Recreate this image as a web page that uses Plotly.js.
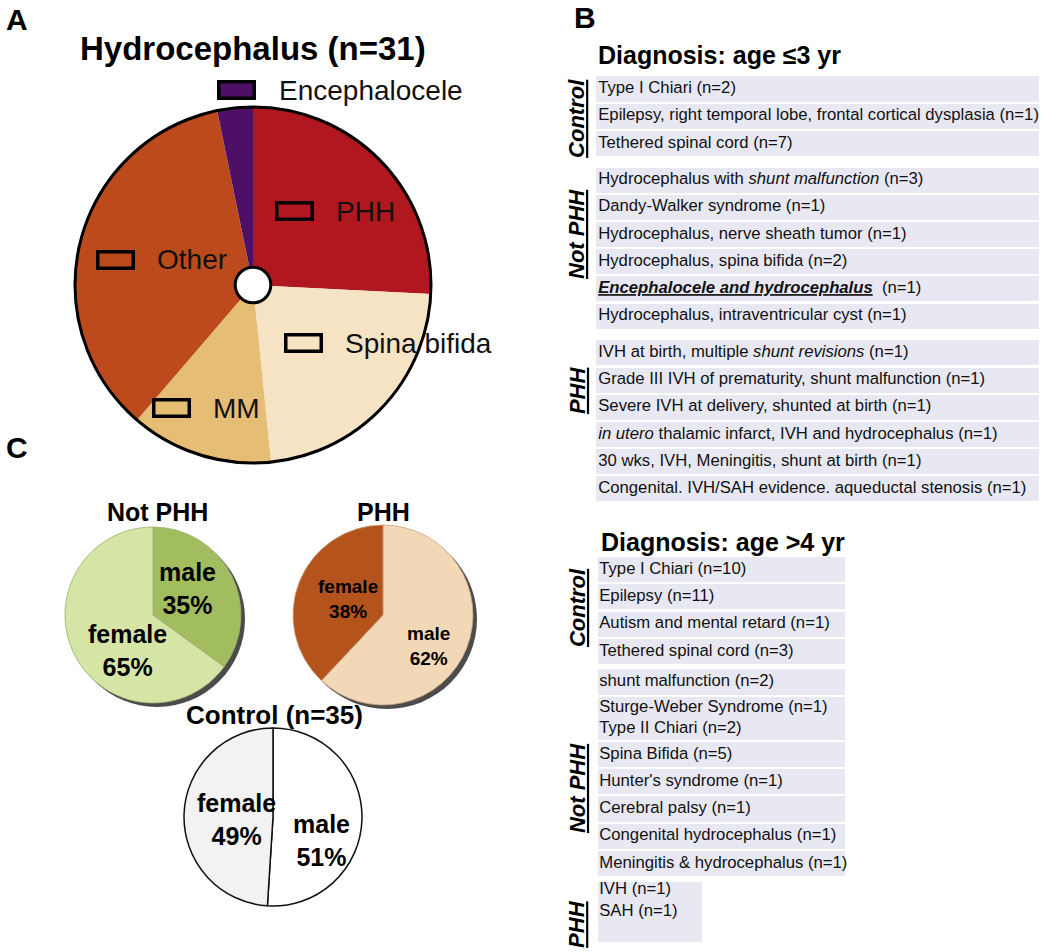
<!DOCTYPE html>
<html><head><meta charset="utf-8">
<script src="https://cdn.plot.ly/plotly-3.0.1.min.js"></script>
<style>html,body{margin:0;padding:0;background:#fff}#chart{width:1050px;height:952px}</style>
</head><body><div id="chart"></div>
<script>
// ---------------- data ----------------
const hydroLabels = ['PHH', 'Spina bifida', 'MM', 'Other', 'Encephalocele'];
const hydroCounts = [8, 7, 4, 11, 1];

const sexLabels = ['male', 'female'];
const notPhhPct = [35, 65];
const phhPct = [62, 38];
const controlPct = [51, 49];

const groupNames = ['Control', 'Not PHH', 'PHH'];

const youngControl = [
  'Type I Chiari (n=2)',
  'Epilepsy, right temporal lobe, frontal cortical dysplasia (n=1)',
  'Tethered spinal cord (n=7)'
];
const youngNotPHH = [
  'Hydrocephalus with <i>shunt malfunction</i> (n=3)',
  'Dandy-Walker syndrome (n=1)',
  'Hydrocephalus, nerve sheath tumor (n=1)',
  'Hydrocephalus, spina bifida (n=2)',
  '<b><i><u>Encephalocele and hydrocephalus</u></i></b>  (n=1)',
  'Hydrocephalus, intraventricular cyst (n=1)'
];
const youngPHH = [
  'IVH at birth, multiple <i>shunt revisions</i> (n=1)',
  'Grade III IVH of prematurity, shunt malfunction (n=1)',
  'Severe IVH at delivery, shunted at birth (n=1)',
  '<i>in utero</i> thalamic infarct, IVH and hydrocephalus (n=1)',
  '30 wks, IVH, Meningitis, shunt at birth (n=1)',
  'Congenital. IVH/SAH evidence. aqueductal stenosis (n=1)'
];
const oldControl = [
  'Type I Chiari (n=10)',
  'Epilepsy (n=11)',
  'Autism and mental retard (n=1)',
  'Tethered spinal cord (n=3)'
];
const oldNotPHH = [
  'shunt malfunction (n=2)',
  'Sturge-Weber Syndrome (n=1)<br>Type II Chiari (n=2)',
  'Spina Bifida (n=5)',
  "Hunter's syndrome (n=1)",
  'Cerebral palsy (n=1)',
  'Congenital hydrocephalus (n=1)',
  'Meningitis & hydrocephalus (n=1)'
];
const oldPHH = ['IVH (n=1)<br>SAH (n=1)<br> '];

// ---------------- styles / layout helpers ----------------
const W = 1050, H = 952;
const fx = p => p / W, fy = p => 1 - p / H;
const FONT = '"Liberation Sans", Arial, sans-serif';
const hydroColors = ['#B0171F', '#F5E3C4', '#E5BD74', '#BD4A1D', '#4E1066'];
const CELL = '#E8E8F3';

const traces = [];
const annotations = [];
function txt(text, x, y, size, opts) {
  annotations.push(Object.assign({
    xref: 'paper', yref: 'paper', x: fx(x), y: fy(y), text: text, showarrow: false,
    xanchor: 'center', yanchor: 'middle', font: {family: FONT, size: size, color: '#000'}
  }, opts || {}));
}

// main pie
const mainDom = {x: [fx(75), fx(431)], y: [fy(463), fy(107)]};
traces.push({
  type: 'pie', labels: hydroLabels, values: hydroCounts, sort: false,
  direction: 'clockwise', rotation: 0, hole: 0.1, domain: mainDom,
  marker: {colors: hydroColors, line: {width: 0}}, textinfo: 'none', hoverinfo: 'label+value'
});
traces.push({
  type: 'pie', labels: ['all'], values: [1], sort: false, hole: 0.1, domain: mainDom,
  marker: {colors: ['rgba(0,0,0,0)'], line: {color: '#000', width: 3}}, textinfo: 'none', hoverinfo: 'skip'
});

// small pies
function sexPie(vals, colors, cx, cy, r, fontSize, lineColor, lineW, shadow, labelPos) {
  const dom = {x: [fx(cx - r), fx(cx + r)], y: [fy(cy + r), fy(cy - r)]};
  if (shadow) {
    traces.push({
      type: 'pie', labels: ['s'], values: [1], sort: false,
      domain: {x: [fx(cx - r + 4), fx(cx + r + 4)], y: [fy(cy + r + 4), fy(cy - r + 4)]},
      marker: {colors: ['rgba(30,30,30,0.8)'], line: {width: 0}}, textinfo: 'none', hoverinfo: 'skip'
    });
  }
  traces.push({
    type: 'pie', labels: sexLabels, values: vals, sort: false, direction: 'clockwise', rotation: 0,
    domain: dom, marker: {colors: colors, line: {color: lineColor, width: lineW}},
    textinfo: 'none', hoverinfo: 'label+value'
  });
  sexLabels.forEach((lab, i) => {
    txt('<b>' + lab + '<br>' + vals[i] + '%</b>', labelPos[i][0], labelPos[i][1], fontSize);
  });
}
sexPie(notPhhPct, ['#A2BD60', '#D4E5A6'], 153, 615, 88, 25, '#9AAE6A', 0.8, true, [[187, 588], [127, 650]]);
sexPie(phhPct, ['#F2D8B6', '#B4531C'], 383, 615, 90, 19, '#C9A27E', 0.8, true, [[428, 646], [348, 599]]);
sexPie(controlPct, ['#FFFFFF', '#F2F2F2'], 273, 817, 89, 25, '#111', 1.5, false, [[321, 840], [237, 819]]);

// tables: cell fills as horizontal bars, labels as text
const GAPROW = 0.08, LINE_EXTRA = 0.65, TEXT_INSET = 0.005;
function table(groups, gap, widths, xa, ya) {
  let y = 0; const ys = [], th = [], tx = [], xs = [], centers = [];
  groups.forEach((g, gi) => {
    if (gi) y += gap;
    const start = y;
    g.forEach(t => {
      const lines = t.split('<br>').length;
      const slot = 1 + LINE_EXTRA * (lines - 1);
      ys.push(y + slot / 2); th.push(slot - GAPROW); tx.push(t); xs.push(widths[gi]);
      y += slot;
    });
    centers.push((start + y) / 2);
  });
  traces.push({
    type: 'bar', orientation: 'h', x: xs, y: ys, width: th, base: 0,
    marker: {color: CELL, line: {width: 0}}, xaxis: xa, yaxis: ya, hoverinfo: 'skip'
  });
  traces.push({
    type: 'scatter', mode: 'text', x: ys.map(() => TEXT_INSET), y: ys, text: tx, textposition: 'middle right',
    marker: {size: 1}, textfont: {family: FONT, size: 16.7, color: '#111'},
    xaxis: xa, yaxis: ya, hoverinfo: 'skip', cliponaxis: false
  });
  return {total: y, centers};
}
const upTop = 75.4, upPitch = 27.2, loTop = 555.9, loPitch = 27.3;
const up = table([youngControl, youngNotPHH, youngPHH], 0.35, [1, 1, 1], 'x', 'y');
const lo = table([oldControl, oldNotPHH, oldPHH], 0.12, [1, 1, 0.42], 'x2', 'y2');

// panel letters and titles
txt('<b>A</b>', 17, 19, 30);
txt('<b>B</b>', 585, 17, 30);
txt('<b>C</b>', 17, 447, 30);
txt('<b>Hydrocephalus (n=31)</b>', 253, 48, 33);
txt('<b>Not PHH</b>', 157, 512, 25);
txt('<b>PHH</b>', 383, 512, 25);
txt('<b>Control (n=35)</b>', 274, 715, 26);
txt('<b>Diagnosis: age ≤3 yr</b>', 596, 55, 25, {xanchor: 'left'});
txt('<b>Diagnosis: age >4 yr</b>', 599, 542, 25, {xanchor: 'left'});

// swatch labels for main pie
const swatchPos = {
  'Encephalocele': [237, 90], 'PHH': [294, 211], 'Other': [115, 260],
  'Spina bifida': [303, 343], 'MM': [171, 408]
};
hydroLabels.forEach((lab, i) => {
  const p = swatchPos[lab];
  annotations.push({
    xref: 'paper', yref: 'paper', x: fx(p[0]), y: fy(p[1]), text: '\u00a0', showarrow: false,
    xanchor: 'center', yanchor: 'middle',
    width: 32, height: 13, bgcolor: hydroColors[i], bordercolor: '#000', borderwidth: 3.5, borderpad: 0,
    font: {size: 2}
  });
  txt(lab, p[0] + 40, p[1], 28, {xanchor: 'left', font: {family: FONT, size: 28, color: '#111'}});
});

// group labels (rotated, underlined)
const upNudge = [0.1, -0.52, -1.13], loNudge = [-0.09, 0.56, 0.44];
groupNames.forEach((g, i) => {
  annotations.push({xref: 'paper', yref: 'y', x: fx(577), y: up.centers[i] + upNudge[i], text: '<b><i><u>' + g + '</u></i></b>',
    textangle: -90, showarrow: false, xanchor: 'center', yanchor: 'middle', font: {family: FONT, size: 22, color: '#000'}});
  annotations.push({xref: 'paper', yref: 'y2', x: fx(577), y: lo.centers[i] + loNudge[i], text: '<b><i><u>' + g + '</u></i></b>',
    textangle: -90, showarrow: false, xanchor: 'center', yanchor: 'middle', font: {family: FONT, size: 22, color: '#000'}});
});

const hidden = {visible: false, fixedrange: true};
const layout = {
  width: W, height: H, margin: {l: 0, r: 0, t: 0, b: 0}, paper_bgcolor: '#fff', plot_bgcolor: 'rgba(0,0,0,0)',
  showlegend: false, bargap: 0, font: {family: FONT},
  xaxis: Object.assign({domain: [fx(596), fx(1039)], range: [0, 1]}, hidden),
  yaxis: Object.assign({domain: [fy(upTop + up.total * upPitch), fy(upTop)], range: [up.total, 0]}, hidden),
  xaxis2: Object.assign({domain: [fx(598), fx(845)], range: [0, 1]}, hidden),
  yaxis2: Object.assign({domain: [fy(loTop + lo.total * loPitch), fy(loTop)], range: [lo.total, 0]}, hidden),
  annotations: annotations
};
Plotly.newPlot('chart', traces, layout, {displayModeBar: false, staticPlot: true});
</script></body></html>
